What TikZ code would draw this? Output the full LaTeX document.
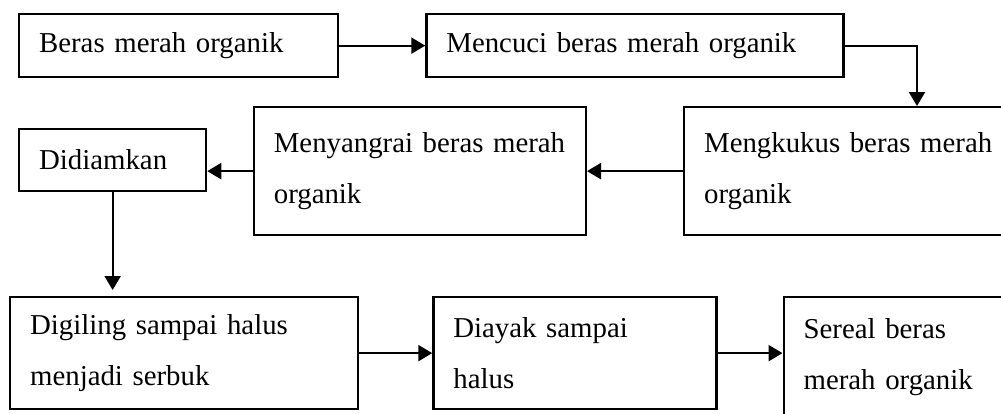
\documentclass[tikz,border=0pt]{standalone}
\usepackage{fontspec}
\setmainfont{Liberation Serif}
\usetikzlibrary{positioning, arrows.meta}

\begin{document}
\begin{tikzpicture}[
  stepbox/.style={draw, rectangle, inner xsep=0.5cm, inner ysep=0pt, align=left,
    font=\fontsize{20.5}{36.3}\selectfont},
  >={Triangle[length=0.35cm, width=0.4cm]},
  line width=1.6pt
]
  \useasboundingbox (0,0) rectangle (25.025,-10.325);
  \clip (0,0) rectangle (25.025,-10.325);

  % first row
  \node (beras) [stepbox, anchor=north west, text width=6.975cm, minimum height=1.575cm] at (0.45,-0.325) {Beras merah organik};
  \node (cuci) [stepbox, right=2.15cm of beras, text width=9.425cm, minimum height=1.575cm] {Mencuci beras merah organik};

  % second row
  \node (kukus) [stepbox, anchor=north west, text width=8cm, minimum height=3.2cm] at (17.075,-2.65) {Mengkukus beras merah\\organik};
  \node (sangrai) [stepbox, left=2.4cm of kukus, text width=7.3cm, minimum height=3.2cm] {Menyangrai beras merah\\organik};
  \node (diam) [stepbox, anchor=north west, text width=3.675cm, minimum height=1.55cm] at (0.45,-3.2) {Didiamkan};

  % third row
  \node (giling) [stepbox, anchor=north west, text width=7.7cm, minimum height=2.8cm] at (0.225,-7.4) {Digiling sampai halus\\menjadi serbuk};
  \node (ayak) [stepbox, right=1.825cm of giling, text width=6.075cm, minimum height=2.8cm] {Diayak sampai\\halus};
  \node (sereal) [stepbox, right=1.625cm of ayak.north east, anchor=north west, text width=5.5cm, minimum height=3cm] {Sereal beras\\merah organik};

  \coordinate (drop) at ([xshift=5.85cm]kukus.north west);

  \draw[->] (beras) -- (cuci);
  \draw[->] (cuci) -| (drop);
  \draw[->] (kukus) -- (sangrai);
  \draw[->] (sangrai.west) -- (sangrai.west -| diam.east);
  \draw[->, shorten >=0.15cm] (diam) -- (diam |- giling.north);
  \draw[->] (giling) -- (ayak);
  \draw[->] (ayak.east) -- (ayak.east -| sereal.west);
\end{tikzpicture}
\end{document}
